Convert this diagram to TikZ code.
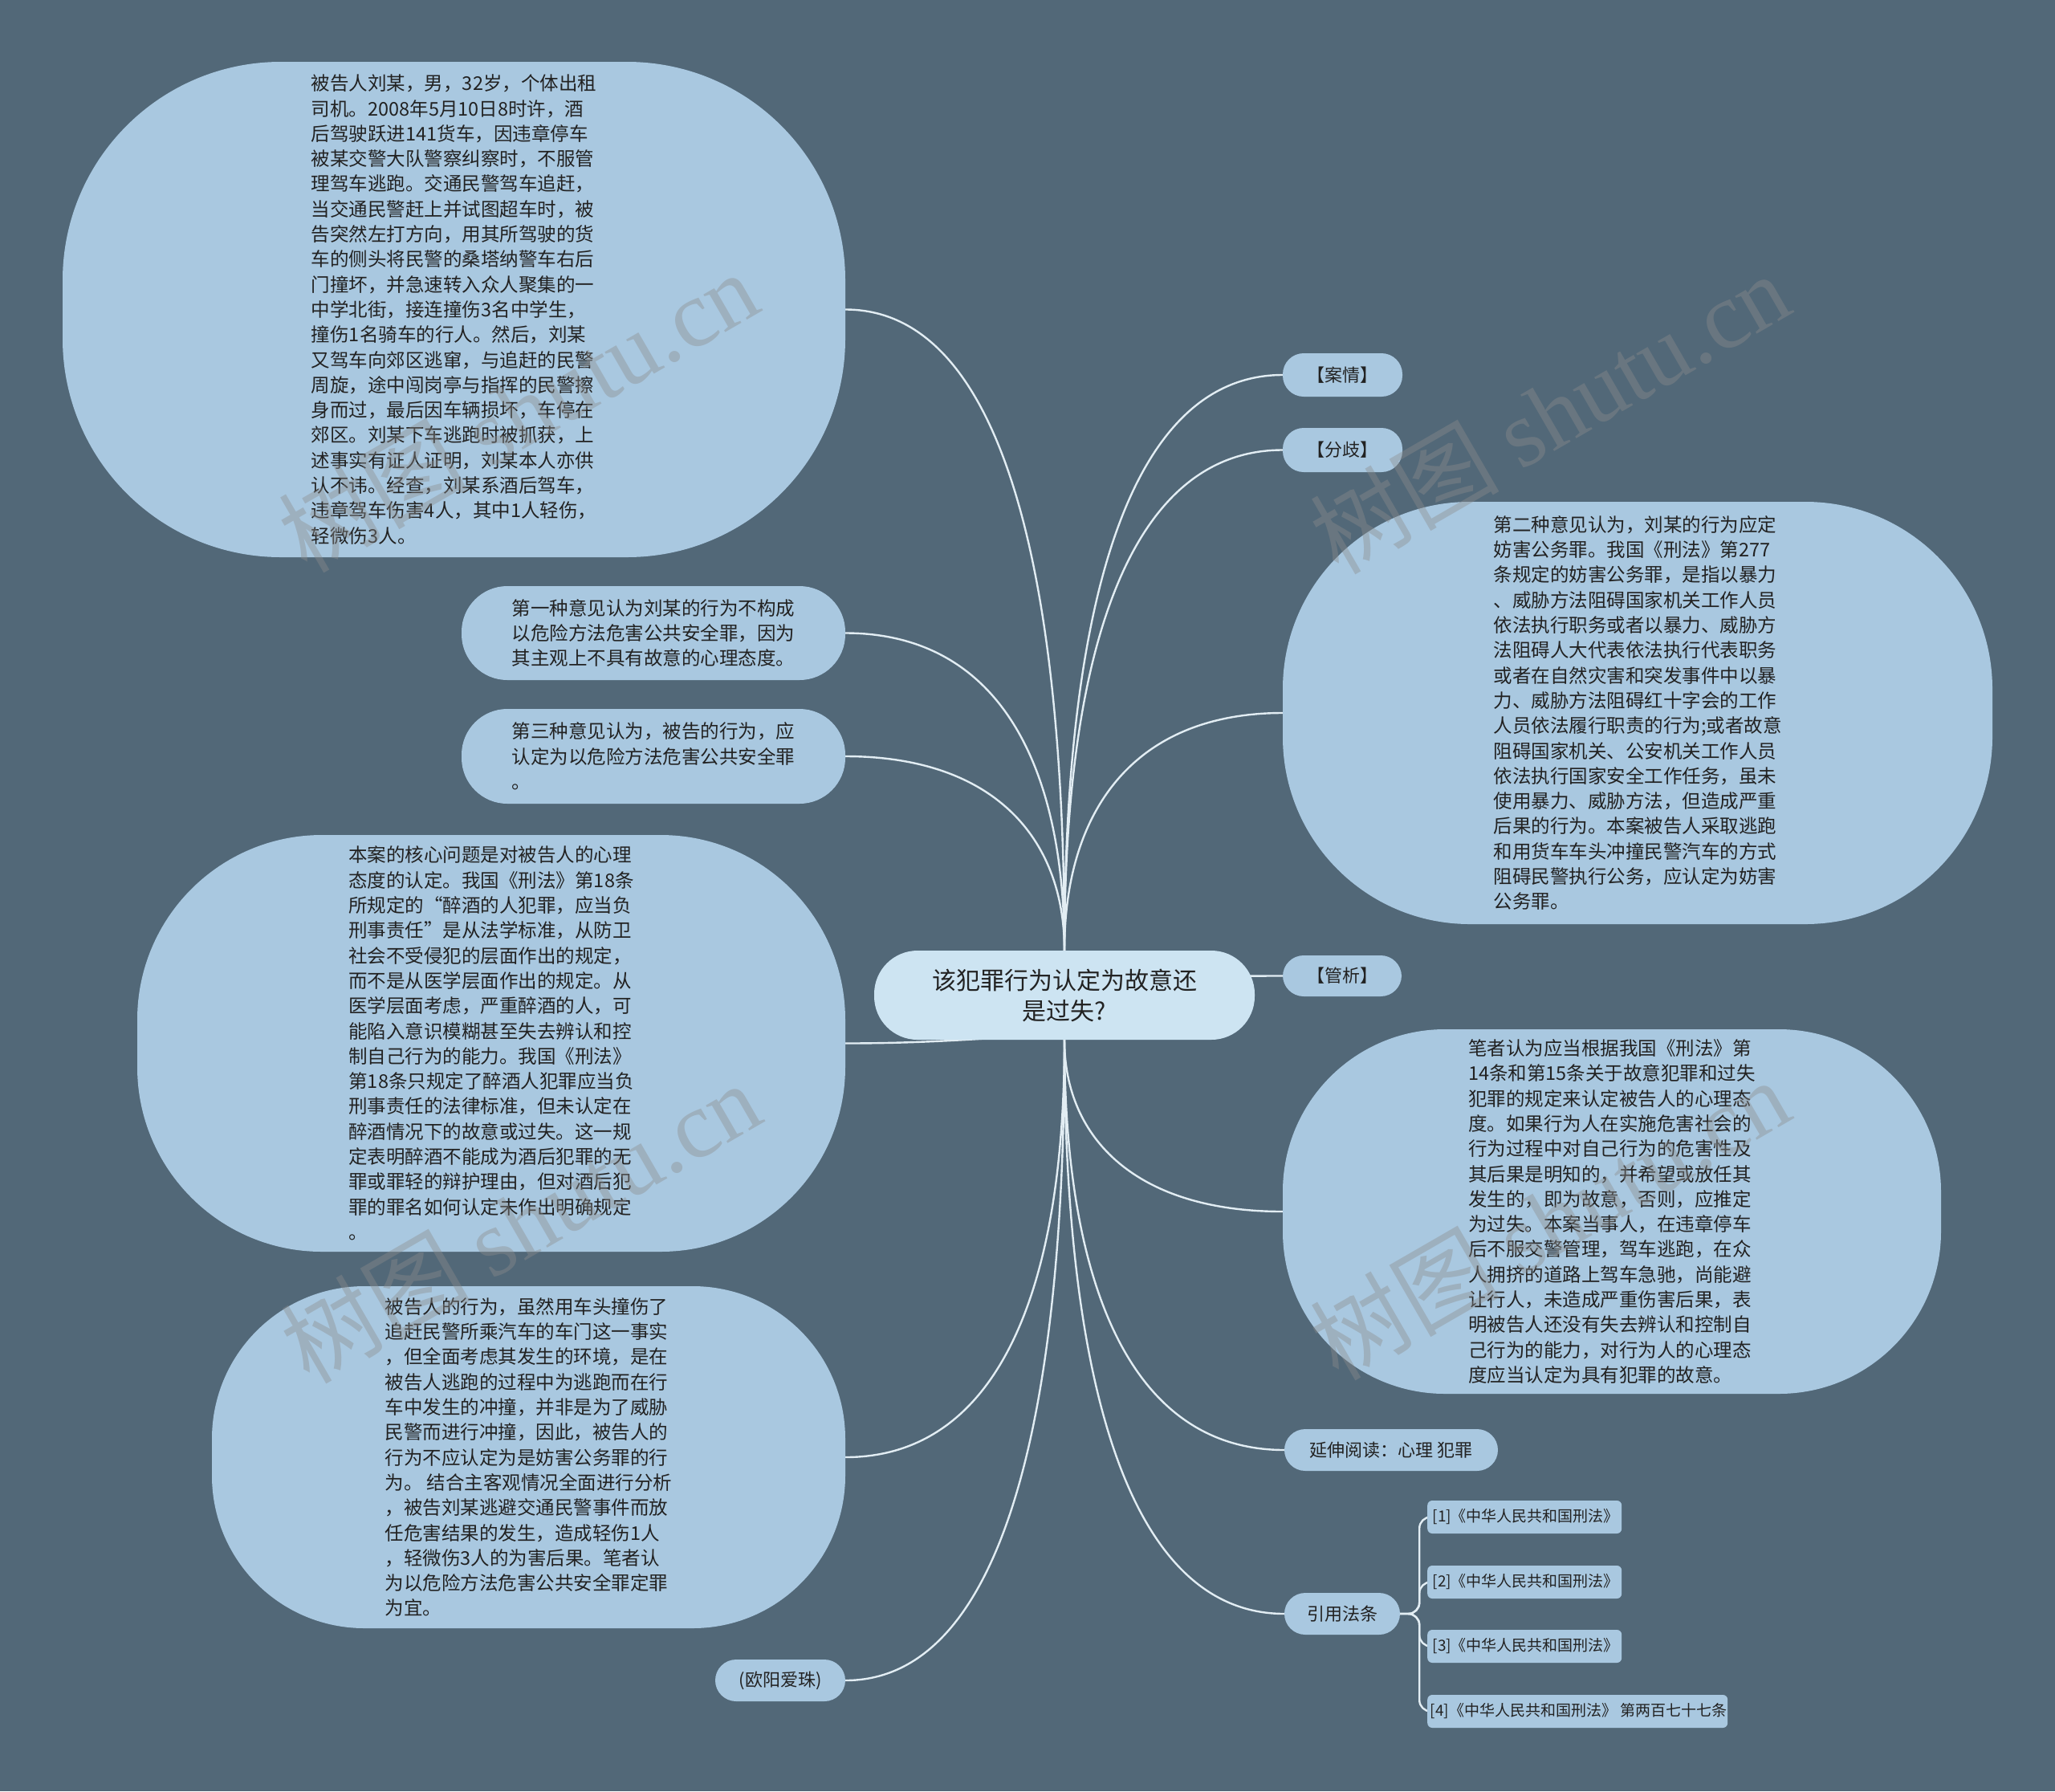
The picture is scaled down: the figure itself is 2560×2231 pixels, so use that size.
\documentclass[tikz,border=0pt]{standalone}
\usepackage{fontspec}
\setmainfont{Noto Sans CJK SC}
\newfontfamily\wmserif{Liberation Serif}
\usetikzlibrary{calc}
\definecolor{bgc}{HTML}{526878}
\definecolor{nodec}{HTML}{A9C8E0}
\definecolor{centc}{HTML}{CDE4F2}
\definecolor{linec}{HTML}{E2EDF3}
\definecolor{txtc}{HTML}{222222}
\definecolor{wmc}{HTML}{8C8C8C}
\pgfdeclarelayer{back}
\pgfdeclarelayer{bg}
\pgfdeclarelayer{fg}
\pgfsetlayers{back,bg,main,fg}
\tikzset{
  bubble/.style={fill=nodec, text=txtc, align=left, inner sep=0pt,
    font=\fontsize{23.5}{31.3}\selectfont},
  pill/.style={fill=nodec, text=txtc, inner sep=0pt, rounded corners=26pt,
    font=\fontsize{22}{26}\selectfont, minimum height=52pt},
  refbox/.style={fill=nodec, text=txtc, rounded corners=6pt, inner sep=0pt,
    font=\fontsize{19}{22}\selectfont, anchor=west, minimum height=41pt},
  conn/.style={draw=linec, line width=2.4pt},
  wmark/.style={rotate=30, text=wmc, opacity=0.4, font=\fontsize{118}{120}\selectfont}
}
\begin{document}
\begin{tikzpicture}[x=1pt,y=-1pt]
\begin{pgfonlayer}{back}
\fill[bgc] (0,0) rectangle (2560,2231);
\end{pgfonlayer}
\useasboundingbox (0,0) rectangle (2560,2231);

% centre
\node[fill=centc, text=txtc, rounded corners=54pt, minimum width=474pt, minimum height=111pt,
  inner sep=0pt, align=center, font=\fontsize{30}{38}\selectfont] (c) at (1326,1239.5)
  {该犯罪行为认定为故意还\\是过失?};

% left side
\node[bubble, rounded corners=272pt, minimum width=975pt, minimum height=617pt] (n1) at (565.5,385.5)
{被告人刘某，男，32岁，个体出租\\
司机。2008年5月10日8时许，酒\\
后驾驶跃进141货车，因违章停车\\
被某交警大队警察纠察时，不服管\\
理驾车逃跑。交通民警驾车追赶，\\
当交通民警赶上并试图超车时，被\\
告突然左打方向，用其所驾驶的货\\
车的侧头将民警的桑塔纳警车右后\\
门撞坏，并急速转入众人聚集的一\\
中学北街，接连撞伤3名中学生，\\
撞伤1名骑车的行人。然后，刘某\\
又驾车向郊区逃窜，与追赶的民警\\
周旋，途中闯岗亭与指挥的民警擦\\
身而过，最后因车辆损坏，车停在\\
郊区。刘某下车逃跑时被抓获，上\\
述事实有证人证明，刘某本人亦供\\
认不讳。经查，刘某系酒后驾车，\\
违章驾车伤害4人，其中1人轻伤，\\
轻微伤3人。};

\node[bubble, rounded corners=57pt, minimum width=478pt, minimum height=117pt] (n2) at (814,788.5)
{第一种意见认为刘某的行为不构成\\
以危险方法危害公共安全罪，因为\\
其主观上不具有故意的心理态度。};

\node[bubble, rounded corners=57pt, minimum width=478pt, minimum height=118pt] (n3) at (814,942)
{第三种意见认为，被告的行为，应\\
认定为以危险方法危害公共安全罪\\
。};

\node[bubble, rounded corners=230pt, minimum width=882pt, minimum height=519pt] (n4) at (612,1299.5)
{本案的核心问题是对被告人的心理\\
态度的认定。我国《刑法》第18条\\
所规定的“醉酒的人犯罪，应当负\\
刑事责任”是从法学标准，从防卫\\
社会不受侵犯的层面作出的规定，\\
而不是从医学层面作出的规定。从\\
医学层面考虑，严重醉酒的人，可\\
能陷入意识模糊甚至失去辨认和控\\
制自己行为的能力。我国《刑法》\\
第18条只规定了醉酒人犯罪应当负\\
刑事责任的法律标准，但未认定在\\
醉酒情况下的故意或过失。这一规\\
定表明醉酒不能成为酒后犯罪的无\\
罪或罪轻的辩护理由，但对酒后犯\\
罪的罪名如何认定未作出明确规定\\
。};

\node[bubble, rounded corners=190pt, minimum width=789pt, minimum height=426pt] (n5) at (658.5,1815)
{被告人的行为，虽然用车头撞伤了\\
追赶民警所乘汽车的车门这一事实\\
，但全面考虑其发生的环境，是在\\
被告人逃跑的过程中为逃跑而在行\\
车中发生的冲撞，并非是为了威胁\\
民警而进行冲撞，因此，被告人的\\
行为不应认定为是妨害公务罪的行\\
为。 结合主客观情况全面进行分析\\
，被告刘某逃避交通民警事件而放\\
任危害结果的发生，造成轻伤1人\\
，轻微伤3人的为害后果。笔者认\\
为以危险方法危害公共安全罪定罪\\
为宜。};

\node[pill, minimum width=162pt] (n6) at (972,2093) {(欧阳爱珠)};

% right side
\node[pill, minimum width=149pt, minimum height=54pt] (r1) at (1672.5,467) {【案情】};
\node[pill, minimum width=149pt, minimum height=55pt] (r2) at (1672.5,560.5) {【分歧】};

\node[bubble, rounded corners=233pt, minimum width=884pt, minimum height=526pt] (r3) at (2040,888)
{第二种意见认为，刘某的行为应定\\
妨害公务罪。我国《刑法》第277\\
条规定的妨害公务罪，是指以暴力\\
、威胁方法阻碍国家机关工作人员\\
依法执行职务或者以暴力、威胁方\\
法阻碍人大代表依法执行代表职务\\
或者在自然灾害和突发事件中以暴\\
力、威胁方法阻碍红十字会的工作\\
人员依法履行职责的行为;或者故意\\
阻碍国家机关、公安机关工作人员\\
依法执行国家安全工作任务，虽未\\
使用暴力、威胁方法，但造成严重\\
后果的行为。本案被告人采取逃跑\\
和用货车车头冲撞民警汽车的方式\\
阻碍民警执行公务，应认定为妨害\\
公务罪。};

\node[pill, minimum width=148pt, minimum height=51pt] (r4) at (1672,1215.5) {【管析】};

\node[bubble, rounded corners=202pt, minimum width=820pt, minimum height=454pt] (r5) at (2008,1509)
{笔者认为应当根据我国《刑法》第\\
14条和第15条关于故意犯罪和过失\\
犯罪的规定来认定被告人的心理态\\
度。如果行为人在实施危害社会的\\
行为过程中对自己行为的危害性及\\
其后果是明知的，并希望或放任其\\
发生的，即为故意，否则，应推定\\
为过失。本案当事人，在违章停车\\
后不服交警管理，驾车逃跑，在众\\
人拥挤的道路上驾车急驰，尚能避\\
让行人，未造成严重伤害后果，表\\
明被告人还没有失去辨认和控制自\\
己行为的能力，对行为人的心理态\\
度应当认定为具有犯罪的故意。};

\node[pill, minimum width=266pt] (r6) at (1733,1806) {延伸阅读：心理 犯罪};
\node[pill, minimum width=144pt] (r7) at (1672,2010) {引用法条};

% references
\node[refbox, minimum width=242pt] (f1) at (1778,1889.5) {\,[1]《中华人民共和国刑法》};
\node[refbox, minimum width=242pt] (f2) at (1778,1970.5) {\,[2]《中华人民共和国刑法》};
\node[refbox, minimum width=242pt] (f3) at (1778,2050.5) {\,[3]《中华人民共和国刑法》};
\node[refbox, minimum width=374pt] (f4) at (1778,2131.5) {\,[4]《中华人民共和国刑法》 第两百七十七条};

% connectors
\begin{pgfonlayer}{bg}
\foreach \n/\a in {n1/east,n2/east,n3/east,n4/east,n5/east,n6/east,
                   r1/west,r2/west,r3/west,r4/west,r5/west,r6/west,r7/west}{
  \coordinate (k) at (\n.\a -| c);
  \draw[conn] (\n.\a) .. controls ($(\n.\a)!2/3!(k)$) and ($(c)!2/3!(k)$) .. (c);
}
\foreach \f in {f1,f2,f3,f4}{
  \draw[conn, rounded corners=14pt] (r7.east) -- ++(24,0) |- (\f.west);
}
\end{pgfonlayer}

% watermarks
\begin{pgfonlayer}{fg}
\node[wmark] (w1) at (645,512) {树图 {\wmserif shutu.cn}};
\node[wmark] (w2) at (1930,514) {树图 {\wmserif shutu.cn}};
\node[wmark] (w3) at (648,1522) {树图 {\wmserif shutu.cn}};
\node[wmark] (w4) at (1930,1518) {树图 {\wmserif shutu.cn}};
\end{pgfonlayer}
\end{tikzpicture}
\end{document}
